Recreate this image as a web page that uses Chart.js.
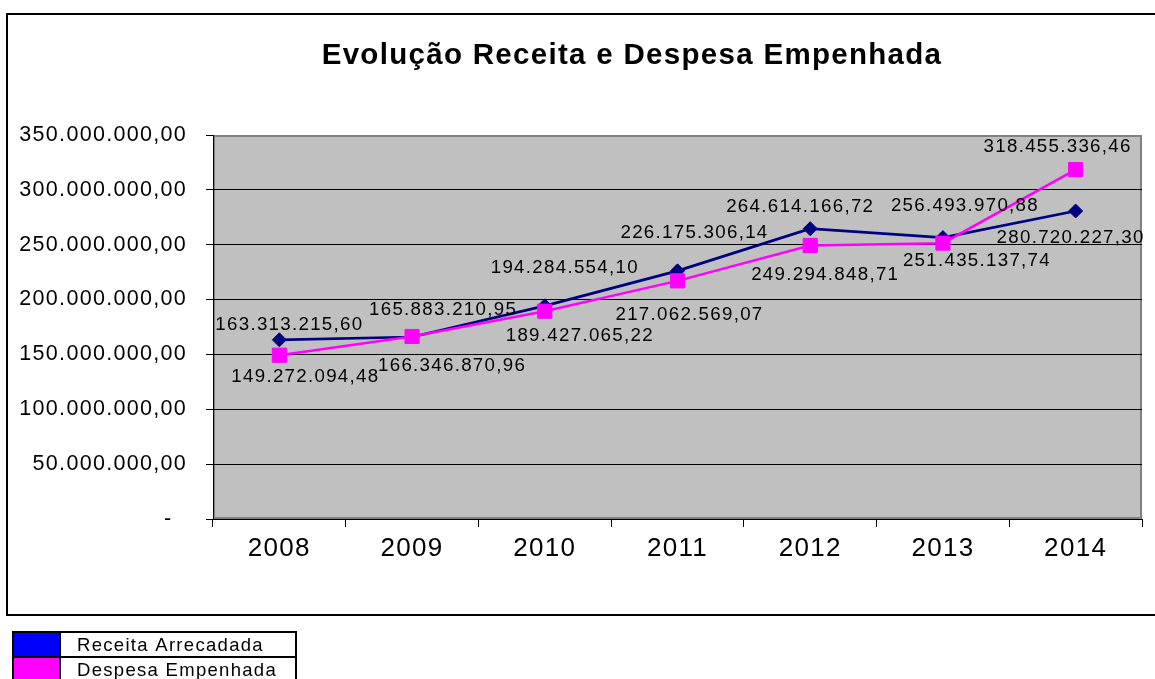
<!DOCTYPE html>
<html><head><meta charset="utf-8">
<script src="https://cdn.jsdelivr.net/npm/chart.js@4/dist/chart.umd.min.js"></script>
<style>html,body{margin:0;padding:0;background:#fff;overflow:hidden}canvas{display:block}</style>
</head><body>
<canvas id="c" width="1155" height="679"></canvas>
<script>
// ---- data ----
const years = ['2008','2009','2010','2011','2012','2013','2014'];
const receita = [163313215.60,165883210.95,194284554.10,226175306.14,264614166.72,256493970.88,280720227.30];
const despesa = [149272094.48,166346870.96,189427065.22,217062569.07,249294848.71,251435137.74,318455336.46];
const seriesNames = ['Receita Arrecadada','Despesa Empenhada'];
const titleText = 'Evolução Receita e Despesa Empenhada';
const yMin = 0, yMax = 350000000, yStep = 50000000;

// ---- label placement (style, relative to each point) ----
const receitaLabelOffsets = [[10,-15],[31,-27],[20,-38],[17,-38],[-10,-22],[22,-32],[-5,27]];
const despesaLabelOffsets = [[26,22],[40,29],[35,25],[12,34],[15,29],[34,18],[-18,-23]];

function fmtBR(v){
  const s = Math.abs(v).toFixed(2);
  const parts = s.split('.');
  return (v<0?'-':'') + parts[0].replace(/\B(?=(\d{3})+(?!\d))/g,'.') + ',' + parts[1];
}

const FONT = '"Liberation Sans", Arial, sans-serif';
const SPACING = '1.3px';
Chart.defaults.font.family = FONT;
Chart.defaults.color = '#000';

const spacingPlugin = {
  id: 'spacing',
  beforeUpdate(chart){ chart.ctx.letterSpacing = SPACING; },
  beforeLayout(chart){ chart.ctx.letterSpacing = SPACING; },
  beforeDraw(chart){ chart.ctx.letterSpacing = SPACING; }
};

const framePlugin = {
  id: 'frame',
  beforeDraw(chart){
    const ctx = chart.ctx, a = chart.chartArea;
    ctx.save();
    ctx.fillStyle = '#fff';
    ctx.fillRect(0,0,chart.width,chart.height);
    ctx.strokeStyle = '#000';
    ctx.lineWidth = 2;
    ctx.strokeRect(7, 14, chart.width + 20, 601);
    ctx.fillStyle = '#C0C0C0';
    ctx.fillRect(a.left, a.top, a.right - a.left, a.bottom - a.top);
    ctx.strokeStyle = '#808080';
    ctx.lineWidth = 2;
    ctx.strokeRect(a.left + 1, a.top + 1, a.right - a.left - 2, a.bottom - a.top - 2);
    // title (centred on the full, wider chart frame)
    ctx.letterSpacing = SPACING;
    ctx.fillStyle = '#000';
    ctx.font = 'bold 29.5px ' + FONT;
    ctx.textAlign = 'center';
    ctx.textBaseline = 'middle';
    ctx.fillText(titleText, 632, 56);
    ctx.restore();
  }
};

const labelPlugin = {
  id: 'pointLabels',
  afterDatasetsDraw(chart){
    const ctx = chart.ctx;
    ctx.save();
    ctx.letterSpacing = SPACING;
    ctx.font = '18.7px ' + FONT;
    ctx.fillStyle = '#000';
    ctx.textAlign = 'center';
    ctx.textBaseline = 'middle';
    chart.data.datasets.forEach((ds, di) => {
      const meta = chart.getDatasetMeta(di);
      meta.data.forEach((pt, i) => {
        const off = ds.labelOffsets[i];
        ctx.fillText(fmtBR(ds.data[i]), pt.x + off[0], pt.y + off[1]);
      });
    });
    ctx.restore();
  }
};

const legendTablePlugin = {
  id: 'legendTable',
  afterDraw(chart){
    const ctx = chart.ctx;
    const x0 = 13, x1 = 60, x2 = 296, y0 = 632, rowH = 25;
    const n = chart.data.datasets.length;
    ctx.save();
    ctx.letterSpacing = SPACING;
    chart.data.datasets.forEach((ds, i) => {
      const y = y0 + i * rowH;
      ctx.fillStyle = ds.legendColor;
      ctx.fillRect(x0, y, x1 - x0, rowH);
      ctx.fillStyle = '#000';
      ctx.font = '18.5px ' + FONT;
      ctx.textAlign = 'left';
      ctx.textBaseline = 'middle';
      ctx.fillText(ds.label, 77, y + rowH / 2 + 1);
    });
    ctx.strokeStyle = '#000';
    ctx.lineWidth = 2;
    ctx.strokeRect(x0, y0, x2 - x0, rowH * n);
    ctx.beginPath();
    ctx.moveTo(x1, y0); ctx.lineTo(x1, y0 + rowH * n);
    for (let i = 1; i < n; i++){ ctx.moveTo(x0, y0 + rowH * i); ctx.lineTo(x2, y0 + rowH * i); }
    ctx.stroke();
    ctx.restore();
  }
};

new Chart(document.getElementById('c'), {
  type: 'line',
  data: {
    labels: years,
    datasets: [
      {
        label: seriesNames[0], data: receita, order: 1,
        borderColor: '#000080', backgroundColor: '#000080', legendColor: '#0000FF',
        borderWidth: 2.7, pointStyle: 'rectRot', pointRadius: 7, pointBorderWidth: 1,
        pointBackgroundColor: '#000080', pointBorderColor: '#000080',
        labelOffsets: receitaLabelOffsets, tension: 0, fill: false
      },
      {
        label: seriesNames[1], data: despesa, order: 0,
        borderColor: '#FF00FF', backgroundColor: '#FF00FF', legendColor: '#FF00FF',
        borderWidth: 2.5, pointStyle: 'rect', pointRadius: 10, pointBorderWidth: 1,
        pointBackgroundColor: '#FF00FF', pointBorderColor: '#FF00FF',
        labelOffsets: despesaLabelOffsets, tension: 0, fill: false
      }
    ]
  },
  options: {
    responsive: false,
    animation: false,
    devicePixelRatio: 1,
    layout: { padding: { left: 0, right: 13, top: 135, bottom: 100 } },
    plugins: {
      legend: { display: false },
      tooltip: { enabled: false },
      title: { display: false }
    },
    scales: {
      x: {
        offset: true,
        grid: { offset: true, drawOnChartArea: false, drawTicks: true, tickLength: 8, color: '#000', tickColor: '#000' },
        border: { color: '#000', width: 1 },
        ticks: { font: { size: 26 }, color: '#000', padding: 6, maxRotation: 0 },
        afterFit(s){ s.height = 60; }
      },
      y: {
        min: yMin, max: yMax,
        grid: {
          color: (c) => (c.tick && c.tick.value === yMax) ? 'rgba(0,0,0,0)' : '#000',
          tickColor: '#000', tickLength: 7, lineWidth: 1
        },
        border: { color: '#000', width: 1 },
        ticks: {
          stepSize: yStep, font: { size: 21.5 }, color: '#000', padding: 19,
          callback: (v) => v === 0 ? '-  ' : fmtBR(v)
        },
        afterFit(s){ s.width = 213; }
      }
    }
  },
  plugins: [spacingPlugin, framePlugin, labelPlugin, legendTablePlugin]
});
</script>
</body></html>
